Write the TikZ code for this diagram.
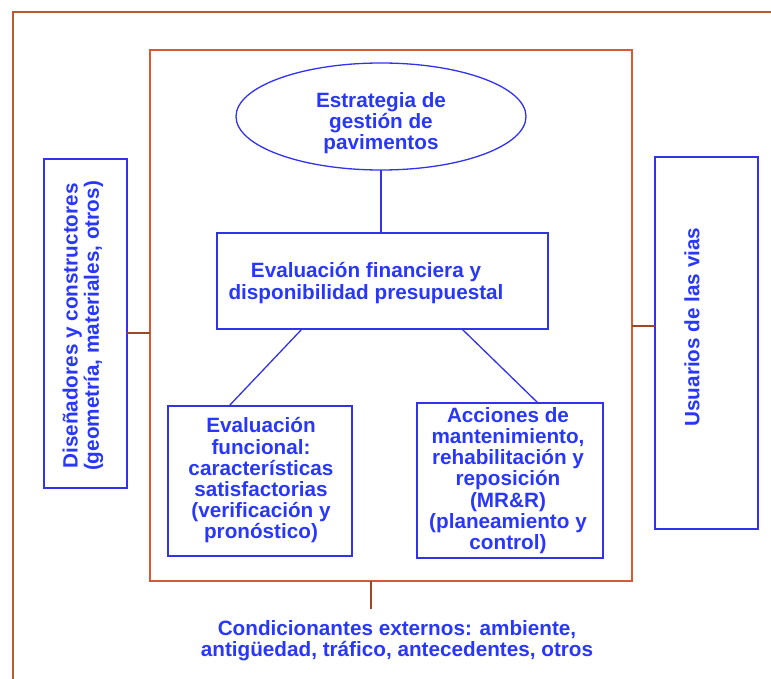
\documentclass[tikz,border=0pt]{standalone}
\usepackage{fontspec}
\setmainfont{Liberation Sans}
\usetikzlibrary{shapes.geometric}
\definecolor{txtblue}{RGB}{40,55,250}
\definecolor{lineblue}{RGB}{50,50,235}
\definecolor{frameorange}{RGB}{215,90,50}
\definecolor{outerbrown}{RGB}{185,90,50}
\definecolor{linkbrown}{RGB}{160,70,35}
\tikzset{
  every node/.style={inner sep=0pt, outer sep=0pt},
  lbl/.style={text=txtblue, font=\fontsize{20.7}{21.2}\selectfont\bfseries, align=center},
  bluebox/.style={draw=lineblue, line width=1.3pt, rectangle},
  blueline/.style={draw=lineblue, line width=1.3pt},
  brownline/.style={draw=linkbrown, line width=1.4pt},
}
\begin{document}
\begin{tikzpicture}[x=1pt, y=-1pt]
\useasboundingbox (0,0) rectangle (771,679);
% outer frame (only left and top visible)
\draw[outerbrown, line width=1.8pt] (13,679) -- (13,12) -- (771,12);
% inner frame
\node[draw=frameorange, line width=1.6pt, rectangle, minimum width=482pt, minimum height=531pt] (frame) at (391,315.5) {};
% ellipse
\node[draw=lineblue, line width=1.3pt, ellipse, minimum width=290pt, minimum height=107pt] (strat) at (381,116.5) {};
\node[lbl] (strattext) at (381,123) {Estrategia de\\gestión de\\pavimentos};
% financial box
\node[bluebox, minimum width=331pt, minimum height=96pt] (fin) at (382.5,281) {};
\node[lbl] (fintext) at (366,283) {Evaluación financiera y\\disponibilidad presupuestal};
% lower boxes
\node[bluebox, minimum width=184pt, minimum height=150pt] (eval) at (260,481) {};
\node[lbl] (evaltext) at (261,480.5) {Evaluación\\funcional:\\características\\satisfactorias\\(verificación y\\pronóstico)};
\node[bluebox, minimum width=186pt, minimum height=155pt] (acc) at (510,480.5) {};
\node[lbl] (acctext) at (508,480.5) {Acciones de\\mantenimiento,\\rehabilitación y\\reposición\\(MR\&R)\\(planeamiento y\\control)};
% side boxes
\node[bluebox, minimum width=83pt, minimum height=329pt] (left) at (85.5,323.5) {};
\node[lbl, rotate=90] (lefttext) at (83,326) {Diseñadores y constructores\\(geometría, materiales, otros)};
\node[bluebox, minimum width=103pt, minimum height=372pt] (right) at (706.5,343) {};
\node[lbl, rotate=90] (righttext) at (692,327) {Usuarios de las vias};
% bottom text
\node[lbl] (ext) at (397,640.5) {Condicionantes externos: ambiente,\\antigüedad, tráfico, antecedentes, otros};
\coordinate (cb) at (371,609);
% connectors
\draw[blueline] (strat.south) -- (fin.north -| strat.south);
\draw[blueline] ([xshift=85pt]fin.south west) -- ([xshift=61pt]eval.north west);
\draw[blueline] ([xshift=-86pt]fin.south east) -- ([xshift=121pt]acc.north west);
\draw[brownline] ([yshift=-9.5pt]left.east) -- ([yshift=-9.5pt]left.east -| frame.west);
\draw[brownline] ([yshift=17pt]right.west) -- ([yshift=17pt]right.west -| frame.east);
\draw[brownline] (frame.south -| cb) -- (cb);
\end{tikzpicture}
\end{document}
